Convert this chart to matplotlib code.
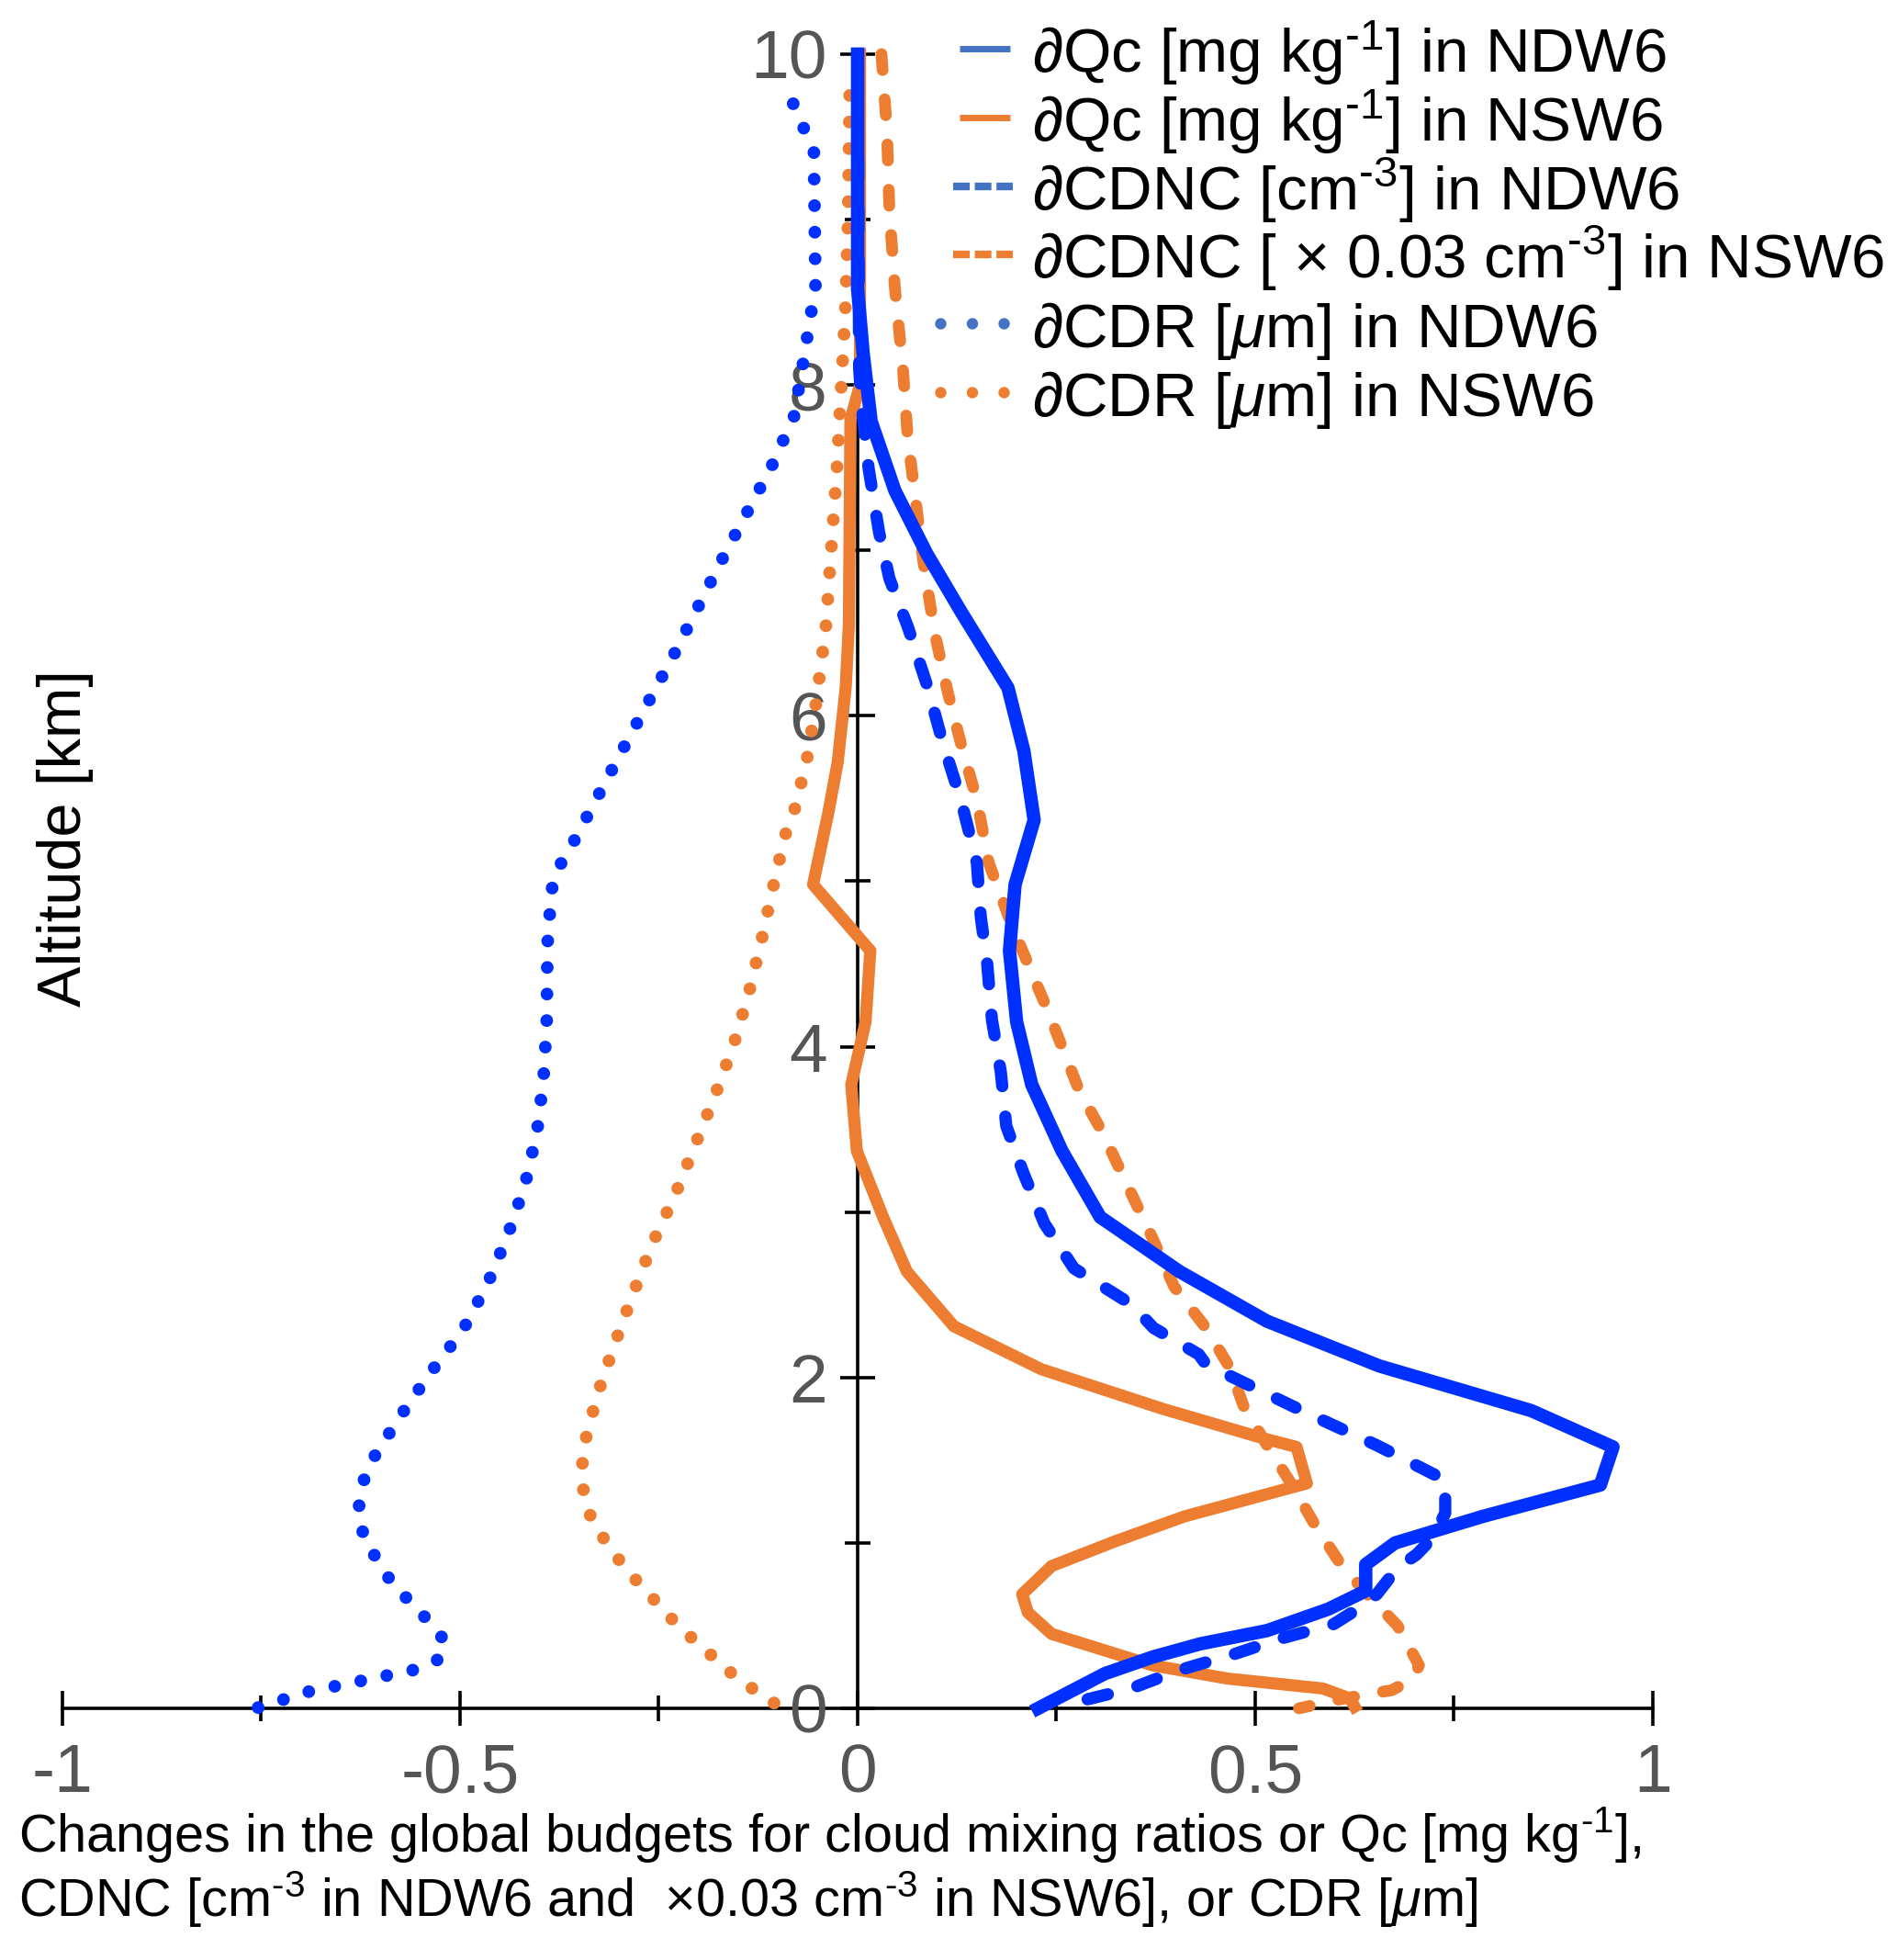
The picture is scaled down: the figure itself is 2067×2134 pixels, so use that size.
import numpy as np
import matplotlib
matplotlib.use("Agg")
import matplotlib.pyplot as plt
from matplotlib.lines import Line2D

plt.rcParams['font.family'] = ['Liberation Sans', 'DejaVu Sans']
plt.rcParams['mathtext.fontset'] = 'custom'
plt.rcParams['mathtext.rm'] = 'Liberation Sans'
plt.rcParams['mathtext.it'] = 'Liberation Sans:italic'
plt.rcParams['axes.unicode_minus'] = False

# profiles: altitude [km] and change value
qc_ndw6_alt = [10.0, 8.58, 8.19, 7.78, 7.36, 6.98, 6.63, 6.17, 5.79, 5.37, 4.98, 4.58, 4.15, 3.77,
               3.37, 2.97, 2.64, 2.34, 2.07, 1.80, 1.58, 1.35, 1.16, 1.00, 0.87, 0.71, 0.60, 0.47,
               0.39, 0.31, 0.21, 0.0]
qc_ndw6 = [0.0, 0.0, 0.007, 0.017, 0.047, 0.087, 0.13, 0.189, 0.209, 0.222, 0.198, 0.191, 0.200, 0.219,
           0.257, 0.305, 0.405, 0.515, 0.656, 0.847, 0.950, 0.934, 0.786, 0.676, 0.639, 0.639, 0.592, 0.515,
           0.431, 0.371, 0.311, 0.227]

qc_nsw6_alt = [10.0, 8.0, 7.79, 6.55, 6.17, 5.72, 5.41, 4.98, 4.58, 4.15, 3.77, 3.37, 2.97, 2.64, 2.31,
               2.05, 1.81, 1.63, 1.58, 1.36, 1.16, 1.01, 0.86, 0.69, 0.58, 0.45, 0.26, 0.18, 0.12, 0.06, 0.01]
qc_nsw6 = [0.003, 0.003, -0.009, -0.011, -0.015, -0.025, -0.037, -0.056, 0.016, 0.010, -0.008, -0.001,
           0.032, 0.062, 0.121, 0.231, 0.384, 0.512, 0.552, 0.565, 0.411, 0.324, 0.244, 0.207, 0.214, 0.244,
           0.371, 0.465, 0.585, 0.619, 0.625]

cdnc_ndw6_alt = [10.0, 8.1, 7.875, 7.49, 7.11, 6.83, 6.54, 6.19, 5.84, 5.49, 5.11, 4.78, 4.50, 4.16, 3.85,
                 3.52, 3.23, 2.93, 2.66, 2.44, 2.30, 2.14, 2.08, 1.80, 1.59, 1.38, 1.18, 1.03, 0.93, 0.85,
                 0.69, 0.61, 0.51, 0.42, 0.33, 0.23, 0.12, 0.04, 0.0]
cdnc_ndw6 = [0.0, 0.002, 0.005, 0.014, 0.027, 0.040, 0.063, 0.087, 0.107, 0.130, 0.150, 0.155, 0.163, 0.169,
             0.180, 0.187, 0.209, 0.235, 0.272, 0.345, 0.372, 0.429, 0.438, 0.5585, 0.653, 0.739, 0.739,
             0.723, 0.703, 0.679, 0.653, 0.632, 0.599, 0.531, 0.475, 0.404, 0.344, 0.277, 0.265]

cdnc_nsw6_alt = [10.0, 9.53, 9.05, 8.58, 8.10, 7.68, 7.30, 6.92, 6.50, 6.15, 5.83, 5.49, 5.11, 4.72, 4.22,
                 3.73, 3.49, 2.83, 2.55, 2.30, 2.06, 1.82, 1.59, 1.36, 1.11, 0.89, 0.70, 0.50, 0.26, 0.18,
                 0.11, 0.06, 0.0]
cdnc_nsw6 = [0.030, 0.037, 0.040, 0.047, 0.057, 0.063, 0.073, 0.083, 0.097, 0.113, 0.130, 0.150, 0.165,
             0.195, 0.239, 0.279, 0.307, 0.372, 0.398, 0.438, 0.468, 0.486, 0.515, 0.545, 0.575, 0.605,
             0.639, 0.679, 0.706, 0.699, 0.672, 0.612, 0.555]

cdr_ndw6_alt = [9.70, 9.41, 8.6, 8.12, 7.81, 7.51, 6.94, 6.37, 5.80, 5.23, 5.05, 4.94, 4.62, 4.14, 3.81,
                3.49, 3.17, 2.86, 2.57, 2.29, 2.03, 1.76, 1.49, 1.34, 1.18, 1.02, 0.76, 0.52, 0.40, 0.29,
                0.23, 0.10, 0.0]
cdr_ndw6 = [-0.081, -0.055, -0.053, -0.069, -0.080, -0.108, -0.171, -0.231, -0.295, -0.358, -0.380, -0.385,
            -0.390, -0.391, -0.395, -0.403, -0.418, -0.440, -0.465, -0.496, -0.537, -0.576, -0.612, -0.624,
            -0.628, -0.620, -0.586, -0.538, -0.518, -0.529, -0.560, -0.691, -0.757]

cdr_nsw6_alt = [9.75, 9.0, 8.5, 8.13, 7.5, 7.02, 6.53, 6.05, 5.73, 5.42, 5.28, 4.95, 4.64, 4.32, 4.01,
                3.71, 3.41, 3.11, 2.81, 2.51, 2.21, 1.90, 1.59, 1.43, 1.28, 1.12, 0.85, 0.50, 0.18, 0.0]
cdr_nsw6 = [-0.010, -0.012, -0.015, -0.019, -0.026, -0.033, -0.040, -0.053, -0.064, -0.080, -0.091, -0.107,
            -0.121, -0.137, -0.156, -0.179, -0.204, -0.229, -0.258, -0.282, -0.305, -0.327, -0.344, -0.347,
            -0.344, -0.333, -0.293, -0.226, -0.151, -0.095]

labels = [r'∂Qc [mg kg$^{\text{-1}}$] in NDW6',
          r'∂Qc [mg kg$^{\text{-1}}$] in NSW6',
          r'∂CDNC [cm$^{\text{-3}}$] in NDW6',
          r'∂CDNC [ × 0.03 cm$^{\text{-3}}$] in NSW6',
          r'∂CDR [$\mu$m] in NDW6',
          r'∂CDR [$\mu$m] in NSW6']

blue = '#0030FF'
orange = '#ED7D31'
leg_blue = '#4472C4'

W, H = 2067, 2134
fig = plt.figure(figsize=(W / 100, H / 100), dpi=100)
ax = fig.add_axes([0.0329, 0.1284, 0.8379, 0.8440])

dotted = (0, (0.001, 2.08))
ax.plot(cdr_ndw6, cdr_ndw6_alt, color=blue, lw=10, linestyle=dotted, dash_capstyle='round', clip_on=False)
ax.plot(cdr_nsw6, cdr_nsw6_alt, color=orange, lw=10, linestyle=dotted, dash_capstyle='round', clip_on=False)
ax.plot(qc_nsw6, qc_nsw6_alt, color=orange, lw=9.5, clip_on=False)
ax.plot(cdnc_nsw6, cdnc_nsw6_alt, color=orange, lw=9.2, linestyle=(0, (1.36, 2.5)),
        dash_capstyle='round', clip_on=False)
ax.plot(cdnc_ndw6, cdnc_ndw6_alt, color=blue, lw=9.6, linestyle=(0, (1.7, 2.5)),
        dash_capstyle='round', clip_on=False)
ax.plot(qc_ndw6, qc_ndw6_alt, color=blue, lw=10.5, clip_on=False)

ax.set_xlim(-1, 1)
ax.set_ylim(0, 10)
ax.spines['left'].set_position(('data', 0))
ax.spines['bottom'].set_position(('data', 0))
ax.spines['right'].set_visible(False)
ax.spines['top'].set_visible(False)
for s in ['left', 'bottom']:
    ax.spines[s].set_linewidth(2.6)
    ax.spines[s].set_zorder(0.5)

ax.set_xticks([-1, -0.5, 0, 0.5, 1])
ax.set_xticklabels(['-1', '-0.5', '0', '0.5', '1'])
ax.set_xticks([-0.75, -0.25, 0.25, 0.75], minor=True)
ax.set_yticks([0, 2, 4, 6, 8, 10])
ax.set_yticklabels(['0', '2', '4', '6', '8', '10'])
ax.set_yticks([1, 3, 5, 7, 9], minor=True)
ax.tick_params(which='major', direction='inout', length=28, width=2.6, labelsize=54,
               labelcolor='#555555', color='black')
ax.tick_params(which='minor', direction='inout', length=20, width=2.6, color='black')
ax.tick_params(axis='x', which='major', pad=13)
ax.tick_params(axis='y', which='major', pad=10)
ax.patch.set_visible(False)

# legend drawn row by row so every row has the same pitch
leg_styles = [
    dict(color=leg_blue, lw=5, solid_capstyle='butt'),
    dict(color=orange, lw=5, solid_capstyle='butt'),
    dict(color=leg_blue, lw=6, linestyle=(0, (2.17, 0.66)), dash_capstyle='butt'),
    dict(color=orange, lw=6, linestyle=(0, (2.17, 0.66)), dash_capstyle='butt'),
    dict(color=leg_blue, lw=9, linestyle=(0, (0.001, 2.76)), dash_capstyle='round'),
    dict(color=orange, lw=9, linestyle=(0, (0.001, 2.76)), dash_capstyle='round'),
]
leg_x = [(1045, 1100), (1045, 1100), (1038, 1103), (1038, 1103), (1024, 1094.5), (1024, 1094.5)]
for i, (lab, st, (xa, xb)) in enumerate(zip(labels, leg_styles, leg_x)):
    yc = 53 + 74.8 * i
    fig.add_artist(Line2D([xa / W, xb / W], [1 - yc / H, 1 - yc / H], transform=fig.transFigure, **st))
    fig.text(1124 / W, 1 - (yc + 26) / H, lab, ha='left', va='baseline', fontsize=48.5)

fig.text(0.0345, 0.5726, 'Altitude [km]', rotation=90, ha='center', va='center', fontsize=48)
fig.text(0.0097, 0.0553, r'Changes in the global budgets for cloud mixing ratios or Qc [mg kg$^{\text{-1}}$],',
         ha='left', va='baseline', fontsize=41.5)
fig.text(0.0097, 0.0220, r'CDNC [cm$^{\text{-3}}$ in NDW6 and  ×0.03 cm$^{\text{-3}}$ in NSW6], or CDR [$\mu$m]',
         ha='left', va='baseline', fontsize=41.5)

fig.savefig('out.png', dpi=100)
